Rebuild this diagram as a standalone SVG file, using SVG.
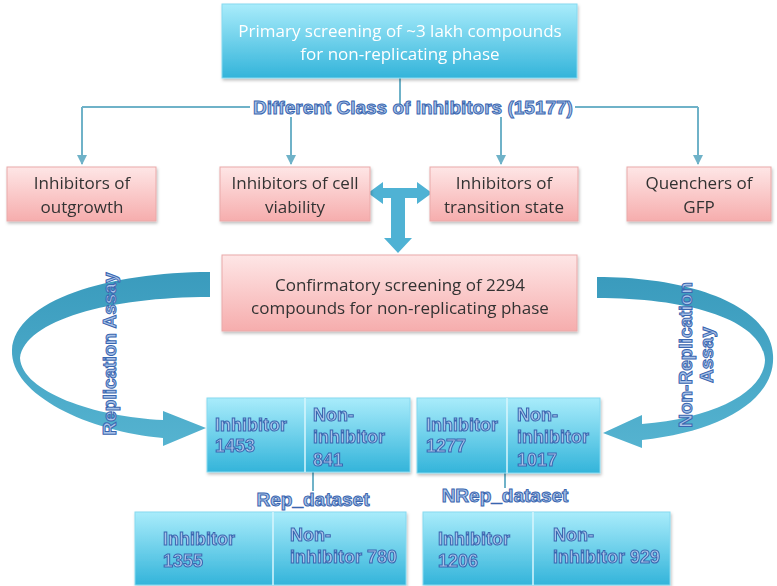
<svg xmlns="http://www.w3.org/2000/svg" width="777" height="586" viewBox="0 0 777 586">
<defs>
<linearGradient id="cyan" x1="0" y1="0" x2="0" y2="1"><stop offset="0" stop-color="#a9ecfb"/><stop offset="1" stop-color="#33b4da"/></linearGradient>
<linearGradient id="pink" x1="0" y1="0" x2="0" y2="1"><stop offset="0" stop-color="#fee6e6"/><stop offset="1" stop-color="#f6adad"/></linearGradient>
<linearGradient id="rib" x1="0" y1="0" x2="0" y2="1"><stop offset="0" stop-color="#3a9bbd"/><stop offset="1" stop-color="#55b3d0"/></linearGradient>
<marker id="ah" viewBox="0 0 10 10" refX="9" refY="5" markerWidth="5" markerHeight="5" orient="auto"><path d="M0,0 L10,5 L0,10 z" fill="#6fb2c8"/></marker>
<filter id="sh" x="-10%" y="-10%" width="120%" height="130%"><feDropShadow dx="1" dy="2" stdDeviation="1.5" flood-color="#000" flood-opacity="0.25"/></filter>
</defs>
<style>
.cy{fill:url(#cyan);stroke:#86d9f0;stroke-width:1}
.pk{fill:url(#pink);stroke:#eaa9a9;stroke-width:1}
.dv{stroke:#d8f6fd;stroke-width:1.5}
.wt{font-family:"Open Sans","Liberation Sans",sans-serif;font-size:17px;fill:#ffffff;text-anchor:middle}
.dk{font-family:"Open Sans","Liberation Sans",sans-serif;font-size:17px;fill:#333333;text-anchor:middle}
.ol{font-family:"Liberation Sans",Arial,sans-serif;font-weight:bold;font-size:18px;fill:#a9c3e8;stroke:#3a66b0;stroke-width:1}
.big{font-size:19px}
.mid{text-anchor:middle}
.ln{fill:none;stroke:#6fb2c8;stroke-width:2}
.arw{fill:#4fb2d4}
.rb{fill:url(#rib)}
</style>

<g id="connectors">
<path class="ln" d="M400,78 V106"/>
<path class="ln" d="M82,107 H250 M575,107 H698"/>
<path class="ln" d="M82,107 V164" marker-end="url(#ah)"/>
<path class="ln" d="M698,107 V164" marker-end="url(#ah)"/>
<path class="ln" d="M291,117 V164" marker-end="url(#ah)"/>
<path class="ln" d="M501,117 V164" marker-end="url(#ah)"/>
<path class="ln" d="M313,472 V491"/>
<path class="ln" d="M505,473 V488"/>
<path id="t-arrow" class="arw" d="M368,193 L383,182 L383,188 L417,188 L417,182 L432,193 L417,204 L417,198 L405,198 L405,238 L412,238 L398,253 L384,238 L391,238 L391,198 L383,198 L383,204 Z"/>
<path id="rep-arrow" class="rb" d="M210,272 C110,272 15,300 12,350 C10,395 90,432 163,438 L163,446 L206,428 L163,411 L163,420 C95,417 22,392 20,358 C25,320 110,297 210,297 Z"/>
<path id="nrep-arrow" class="rb" d="M597,277 C690,277 770,305 773,355 C776,400 720,432 642,440 L642,448 L603,433 L642,415 L642,424 C715,418 764,392 765,360 C762,320 690,298 597,298 Z"/>
<text class="ol big mid" x="413" y="114">Different Class of Inhibitors (15177)</text>
<text class="ol big mid" transform="translate(116,354) rotate(-90)">Replication Assay</text>
<text class="ol big mid" transform="translate(692,355) rotate(-90)">Non-Replication</text>
<text class="ol big mid" transform="translate(713,355) rotate(-90)">Assay</text>
<text class="ol big mid" x="313" y="506">Rep_dataset</text>
<text class="ol big mid" x="505" y="502">NRep_dataset</text>
</g>

<g id="primary" filter="url(#sh)">
<rect class="cy" x="222" y="4" width="355" height="74"/>
<text class="wt" x="400" y="37">Primary screening of ~3 lakh compounds</text>
<text class="wt" x="400" y="60">for non-replicating phase</text>
</g>

<g id="outgrowth" filter="url(#sh)">
<rect class="pk" x="7" y="167" width="149" height="54"/>
<text class="dk" x="82" y="189">Inhibitors of</text>
<text class="dk" x="82" y="213">outgrowth</text>
</g>
<g id="viability" filter="url(#sh)">
<rect class="pk" x="220" y="167" width="150" height="54"/>
<text class="dk" x="295" y="189">Inhibitors of cell</text>
<text class="dk" x="295" y="213">viability</text>
</g>
<g id="transition" filter="url(#sh)">
<rect class="pk" x="430" y="167" width="148" height="54"/>
<text class="dk" x="504" y="189">Inhibitors of</text>
<text class="dk" x="504" y="213">transition state</text>
</g>
<g id="gfp" filter="url(#sh)">
<rect class="pk" x="627" y="167" width="144" height="54"/>
<text class="dk" x="699" y="189">Quenchers of</text>
<text class="dk" x="699" y="213">GFP</text>
</g>

<g id="confirmatory" filter="url(#sh)">
<rect class="pk" x="222" y="255" width="355" height="76"/>
<text class="dk" x="400" y="291">Confirmatory screening of 2294</text>
<text class="dk" x="400" y="314">compounds for non-replicating phase</text>
</g>

<g id="rep-assay" filter="url(#sh)">
<rect class="cy" x="207" y="398" width="203" height="74"/>
<line class="dv" x1="305" y1="398" x2="305" y2="472"/>
<text class="ol" x="215" y="431">Inhibitor</text>
<text class="ol" x="215" y="452">1453</text>
<text class="ol" x="313" y="421">Non-</text>
<text class="ol" x="313" y="443">inhibitor</text>
<text class="ol" x="313" y="466">841</text>
</g>

<g id="nrep-assay" filter="url(#sh)">
<rect class="cy" x="417" y="398" width="183" height="75"/>
<line class="dv" x1="507" y1="398" x2="507" y2="473"/>
<text class="ol" x="426" y="431">Inhibitor</text>
<text class="ol" x="426" y="452">1277</text>
<text class="ol" x="517" y="421">Non-</text>
<text class="ol" x="517" y="443">inhibitor</text>
<text class="ol" x="517" y="466">1017</text>
</g>

<g id="rep-dataset" filter="url(#sh)">
<rect class="cy" x="135" y="512" width="271" height="73"/>
<line class="dv" x1="273" y1="512" x2="273" y2="585"/>
<text class="ol" x="163" y="545">Inhibitor</text>
<text class="ol" x="163" y="567">1355</text>
<text class="ol" x="290" y="541">Non-</text>
<text class="ol" x="290" y="563">inhibitor 780</text>
</g>

<g id="nrep-dataset" filter="url(#sh)">
<rect class="cy" x="423" y="512" width="247" height="73"/>
<line class="dv" x1="533" y1="512" x2="533" y2="585"/>
<text class="ol" x="438" y="545">Inhibitor</text>
<text class="ol" x="438" y="567">1206</text>
<text class="ol" x="553" y="541">Non-</text>
<text class="ol" x="553" y="563">inhibitor 929</text>
</g>
</svg>
